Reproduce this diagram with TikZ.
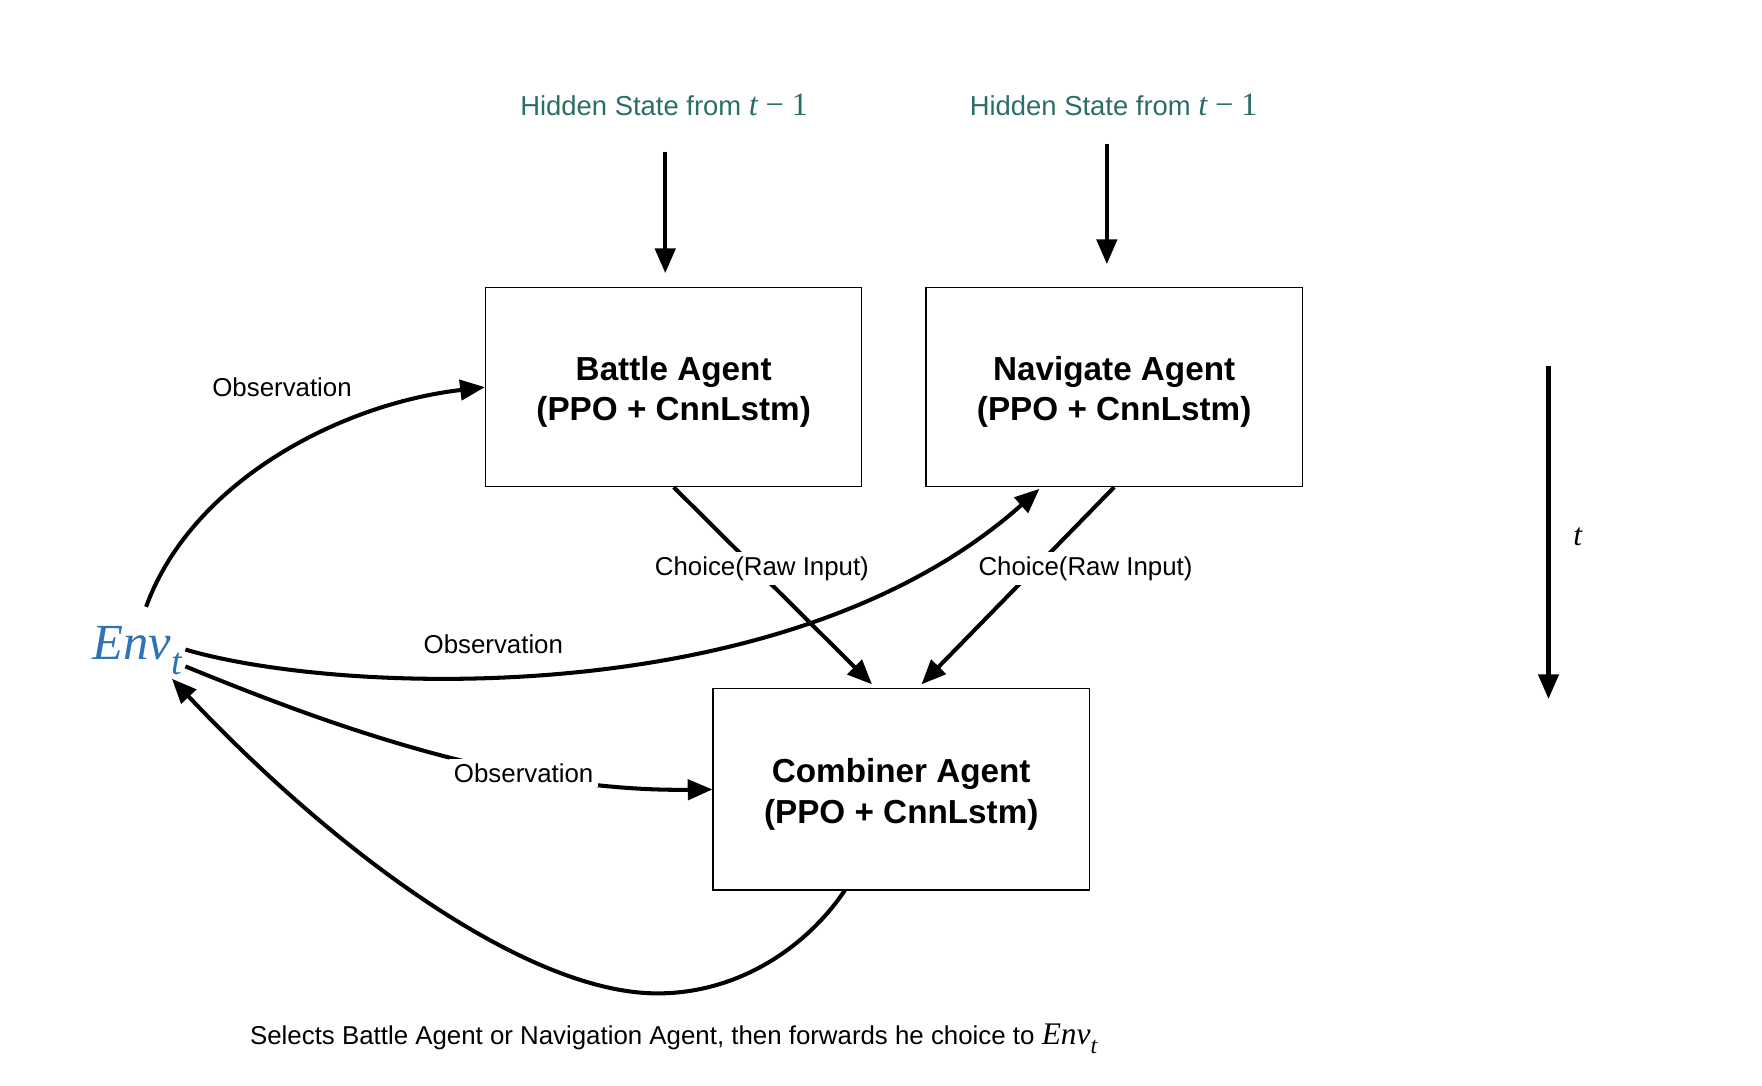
\documentclass[tikz,border=0pt]{standalone}
\usepackage{fontspec}
\setmainfont{Liberation Sans}
\newfontfamily\serif{Liberation Serif}
\usetikzlibrary{arrows.meta}
\definecolor{hidteal}{RGB}{43,110,104}
\definecolor{envblue}{RGB}{46,116,181}
\begin{document}
\begin{tikzpicture}[x=0.5pt,y=-0.5pt,
 agent/.style={draw, line width=0.5pt, minimum width=167.5pt, minimum height=88.5pt, align=center, font=\fontsize{14.8}{18}\selectfont\bfseries, inner sep=0pt},
 conn/.style={line width=1.8pt, -{Triangle[length=11pt,width=9pt]}},
 lbl/.style={font=\fontsize{11.5}{13}\selectfont, inner sep=2pt},
 hid/.style={font=\fontsize{12.2}{14}\selectfont, text=hidteal}]
\useasboundingbox (0,0) rectangle (1568,966);

% agents
\node[agent] (battle) at (599.5,344.5) {\rule{0pt}{15pt}Battle Agent\\(PPO + CnnLstm)};
\node[agent] (nav) at (991.5,344.5) {\rule{0pt}{15pt}Navigate Agent\\(PPO + CnnLstm)};
\node[agent, minimum height=89.5pt] (comb) at (802,702.5) {\rule{0pt}{15pt}Combiner Agent\\(PPO + CnnLstm)};

% hidden state labels
\node[hid] (h1) at (591,93) {Hidden State from {\fontsize{14.5}{16}\selectfont\serif\itshape t} {\fontsize{14.5}{16}\selectfont\serif −} {\fontsize{14.5}{16}\selectfont\serif 1}};
\node[hid] (h2) at (991,93) {Hidden State from {\fontsize{14.5}{16}\selectfont\serif\itshape t} {\fontsize{14.5}{16}\selectfont\serif −} {\fontsize{14.5}{16}\selectfont\serif 1}};
\coordinate (h1s) at (592,135);
\coordinate (h1e) at (592,243);
\coordinate (h2s) at (985,128);
\coordinate (h2e) at (985,235);
\draw[conn] (h1s) -- (h1e);
\draw[conn] (h2s) -- (h2e);

% environment
\node[text=envblue, font=\fontsize{22.5}{24}\selectfont\serif\itshape, inner sep=0pt] (env) at (122,579) {Env\raisebox{-7pt}{\fontsize{17}{17}\selectfont t}};
\coordinate (envA) at (130,540);
\coordinate (envB) at (165,578);
\coordinate (envC) at (165,593);
\coordinate (envD) at (153,604);
\coordinate (navtip) at (925,435);
\coordinate (combB) at (752,792);
\coordinate (combTa) at (776,609);
\coordinate (combTb) at (820,609);

% observations
\draw[conn] (envA) .. controls (170,430) and (300,360) .. (battle.west);
\node[lbl] (obs1) at (251,345) {Observation};
\draw[conn] (envB) .. controls (300,618) and (700,636) .. (navtip);
\node[lbl] (obs2) at (439,573) {Observation};
\draw[conn] (envC) .. controls (280,640) and (450,705) .. (comb.west);
\node[lbl, fill=white] (obs3) at (466,688) {Observation};

% choices
\draw[conn] (battle.south) -- (combTa);
\node[lbl, fill=white] (ch1) at (678,506) {Choice(Raw Input)};
\draw[conn] (nav.south) -- (combTb);
\node[lbl, fill=white] (ch2) at (966,506) {Choice(Raw Input)};

% back to env
\draw[conn] (combB) .. controls (720,840) and (660,884) .. (585,884) .. controls (470,884) and (300,760) .. (envD);
\node[lbl] (sel) at (599.5,924) {Selects Battle Agent or Navigation Agent, then forwards he choice to {\fontsize{14}{14}\selectfont\serif\itshape Env\raisebox{-4pt}{\fontsize{10.5}{10.5}\selectfont t}}};

% time arrow
\coordinate (ts) at (1378,326);
\coordinate (te) at (1378,622);
\draw[conn] (ts) -- (te);
\node[font=\fontsize{14}{16}\selectfont\serif\itshape] (tl) at (1404,478) {t};
\end{tikzpicture}
\end{document}
